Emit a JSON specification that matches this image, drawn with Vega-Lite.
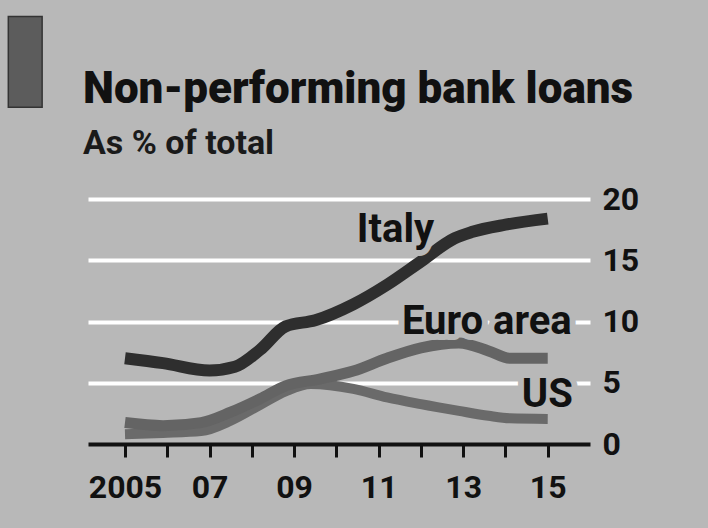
{
  "$schema": "https://vega.github.io/schema/vega-lite/v6.json",
  "width": 502,
  "height": 245,
  "autosize": "none",
  "padding": {"left": 88, "top": 199, "right": 118, "bottom": 84},
  "background": "#b8b8b8",
  "config": {"view": {"stroke": null}, "font": "Roboto"},
  "title": {
    "text": "Non-performing bank loans",
    "subtitle": "As % of total",
    "anchor": "start",
    "frame": "group",
    "dx": -5,
    "offset": -145,
    "font": "Roboto",
    "fontSize": 44,
    "fontWeight": 900,
    "color": "#111111",
    "subtitleFont": "Roboto",
    "subtitleFontSize": 34,
    "subtitleFontWeight": "bold",
    "subtitleColor": "#1a1a1a",
    "subtitlePadding": 15
  },
  "datasets": {
    "series": [
      {"country": "Italy", "year": 2005.0, "value": 7.0},
      {"country": "Italy", "year": 2005.9, "value": 6.6},
      {"country": "Italy", "year": 2007.0, "value": 6.0},
      {"country": "Italy", "year": 2007.6, "value": 6.3},
      {"country": "Italy", "year": 2008.2, "value": 7.7},
      {"country": "Italy", "year": 2008.8, "value": 9.6},
      {"country": "Italy", "year": 2009.5, "value": 10.1},
      {"country": "Italy", "year": 2010.4, "value": 11.4},
      {"country": "Italy", "year": 2011.2, "value": 13.0},
      {"country": "Italy", "year": 2012.0, "value": 14.9},
      {"country": "Italy", "year": 2012.8, "value": 16.8},
      {"country": "Italy", "year": 2013.2, "value": 17.3},
      {"country": "Italy", "year": 2014.0, "value": 17.9},
      {"country": "Italy", "year": 2015.0, "value": 18.4},
      {"country": "US", "year": 2005.0, "value": 0.8},
      {"country": "US", "year": 2005.9, "value": 0.9},
      {"country": "US", "year": 2006.8, "value": 1.05},
      {"country": "US", "year": 2007.5, "value": 1.9},
      {"country": "US", "year": 2008.2, "value": 3.2},
      {"country": "US", "year": 2008.8, "value": 4.3},
      {"country": "US", "year": 2009.4, "value": 4.9},
      {"country": "US", "year": 2010.4, "value": 4.5},
      {"country": "US", "year": 2011.2, "value": 3.8},
      {"country": "US", "year": 2012.0, "value": 3.25},
      {"country": "US", "year": 2012.9, "value": 2.7},
      {"country": "US", "year": 2013.6, "value": 2.3},
      {"country": "US", "year": 2014.1, "value": 2.1},
      {"country": "US", "year": 2015.0, "value": 2.05},
      {"country": "Euro area", "year": 2005.0, "value": 1.75},
      {"country": "Euro area", "year": 2005.9, "value": 1.5},
      {"country": "Euro area", "year": 2006.8, "value": 1.75},
      {"country": "Euro area", "year": 2007.5, "value": 2.6},
      {"country": "Euro area", "year": 2008.2, "value": 3.7},
      {"country": "Euro area", "year": 2008.8, "value": 4.75},
      {"country": "Euro area", "year": 2009.6, "value": 5.3},
      {"country": "Euro area", "year": 2010.4, "value": 5.95},
      {"country": "Euro area", "year": 2011.2, "value": 7.0},
      {"country": "Euro area", "year": 2012.0, "value": 7.85},
      {"country": "Euro area", "year": 2012.9, "value": 8.25},
      {"country": "Euro area", "year": 2013.6, "value": 7.6},
      {"country": "Euro area", "year": 2014.1, "value": 7.0},
      {"country": "Euro area", "year": 2015.0, "value": 7.0}
    ],
    "labels": [
      {"label": "Italy", "year": 2011.4, "value": 16.5},
      {"label": "Euro area", "year": 2013.56, "value": 9.0},
      {"label": "US", "year": 2014.99, "value": 3.0}
    ]
  },
  "layer": [
    {
      "data": {"values": [{}]},
      "mark": {"type": "rect", "color": "#5c5c5c", "stroke": "#333333", "strokeWidth": 1.5},
      "encoding": {
        "x": {"datum": 2002.24, "type": "quantitative", "scale": {"domain": [2004.125, 2016], "nice": false, "zero": false}},
        "x2": {"datum": 2003.04},
        "y": {"datum": 34.9, "type": "quantitative", "scale": {"domain": [0, 20], "nice": false}},
        "y2": {"datum": 27.5}
      }
    },
    {
      "data": {"name": "series"},
      "mark": {"type": "line", "interpolate": "monotone", "strokeCap": "butt", "strokeJoin": "round"},
      "encoding": {
        "x": {
          "field": "year", "type": "quantitative",
          "scale": {"domain": [2004.125, 2016], "nice": false, "zero": false},
          "axis": {
            "orient": "bottom",
            "title": null,
            "values": [2005, 2006, 2007, 2008, 2009, 2010, 2011, 2012, 2013, 2014, 2015],
            "labelExpr": "datum.value % 2 == 1 ? (datum.value == 2005 ? '2005' : substring(toString(datum.value), 2)) : ''",
            "grid": false,
            "tickSize": 13,
            "tickWidth": 3,
            "tickColor": "#111111",
            "domainColor": "#111111",
            "domainWidth": 4,
            "labelFont": "Roboto",
            "labelFontSize": 32,
            "labelFontWeight": "bold",
            "labelColor": "#111111",
            "labelPadding": 15,
            "labelFlush": false,
            "labelOverlap": false
          }
        },
        "y": {
          "field": "value", "type": "quantitative",
          "scale": {"domain": [0, 20], "nice": false},
          "axis": {
            "orient": "right",
            "title": null,
            "values": [0, 5, 10, 15, 20],
            "grid": true,
            "gridColor": "#ffffff",
            "gridWidth": 4,
            "gridOpacity": {"condition": {"test": "datum.value === 0", "value": 0}, "value": 1},
            "domain": false,
            "ticks": false,
            "labelPadding": 12,
            "labelFont": "Roboto",
            "labelFontSize": 32,
            "labelFontWeight": "bold",
            "labelColor": "#111111"
          }
        },
        "color": {
          "field": "country", "type": "nominal",
          "scale": {"domain": ["Italy", "Euro area", "US"], "range": ["#2e2e2e", "#646464", "#6a6a6a"]},
          "legend": null
        },
        "strokeWidth": {
          "field": "country", "type": "nominal",
          "scale": {"domain": ["Italy", "Euro area", "US"], "range": [12, 10, 10]},
          "legend": null
        },
        "order": {"field": "year", "type": "quantitative"}
      }
    },
    {
      "data": {"name": "labels"},
      "mark": {"type": "text", "font": "Roboto", "fontSize": 40, "fontWeight": "bold", "align": "center", "baseline": "alphabetic", "stroke": "#b8b8b8", "strokeWidth": 12, "strokeJoin": "round", "fill": "#b8b8b8"},
      "encoding": {
        "x": {"field": "year", "type": "quantitative"},
        "y": {"field": "value", "type": "quantitative"},
        "text": {"field": "label"}
      }
    },
    {
      "data": {"name": "labels"},
      "mark": {"type": "text", "font": "Roboto", "fontSize": 40, "fontWeight": "bold", "align": "center", "baseline": "alphabetic", "fill": "#111111"},
      "encoding": {
        "x": {"field": "year", "type": "quantitative"},
        "y": {"field": "value", "type": "quantitative"},
        "text": {"field": "label"}
      }
    }
  ]
}
